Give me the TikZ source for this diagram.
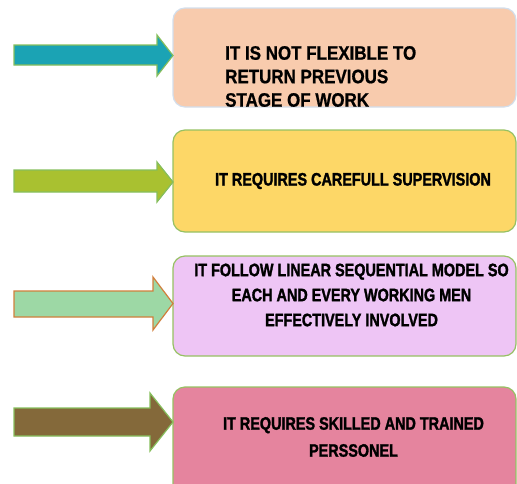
\documentclass[tikz,border=0pt]{standalone}
\usepackage{fontspec}
\setmainfont{Liberation Sans}
\newfontfamily\narrowfont[FakeStretch=0.8,FakeBold=1.6]{Liberation Sans}
\newfontfamily\widefont[FakeStretch=0.87,FakeBold=0.8]{Liberation Sans}
\definecolor{peach}{HTML}{F8CBAD}
\definecolor{gold}{HTML}{FDD767}
\definecolor{lilac}{HTML}{EEC5F5}
\definecolor{rose}{HTML}{E5849E}
\definecolor{boxgreen}{HTML}{96C163}
\definecolor{paleblue}{HTML}{D2DEEC}
\definecolor{teal}{HTML}{1BA3B4}
\definecolor{lime}{HTML}{A9C130}
\definecolor{mint}{HTML}{9DD8A5}
\definecolor{brownish}{HTML}{84693A}
\definecolor{arrgreen}{HTML}{86BE5C}
\definecolor{orangeline}{HTML}{D17F3C}
\tikzset{
  card/.style={rounded corners=12pt, line width=1.2pt},
  arrowshape/.style={line width=1.2pt, line join=miter},
  narrowtext/.style={font=\narrowfont\bfseries\fontsize{18}{25}\selectfont, align=center, inner sep=0pt},
}
\begin{document}
\begin{tikzpicture}[x=1pt,y=-1pt]
\useasboundingbox (0,0) rectangle (517,483);
\clip (0,0) rectangle (517,483);
% boxes
\draw[card, fill=peach, draw=paleblue] (173,8) rectangle (516,107);
\draw[card, fill=gold, draw=boxgreen] (173,130) rectangle (516,232);
\draw[card, fill=lilac, draw=boxgreen] (173,256) rectangle (516,356);
\draw[card, fill=rose, draw=boxgreen] (173,387) rectangle (516,500);
% arrows
\draw[arrowshape, fill=teal, draw=arrgreen] (14,45) -- (157,45) -- (157,35) -- (173,55.5) -- (157,76) -- (157,65) -- (14,65) -- cycle;
\draw[arrowshape, fill=lime, draw=arrgreen] (14,170) -- (157,170) -- (157,162) -- (173,182) -- (157,202) -- (157,192) -- (14,192) -- cycle;
\draw[arrowshape, fill=mint, draw=orangeline] (14,291) -- (153,291) -- (153,277) -- (173,303.5) -- (153,330) -- (153,317) -- (14,317) -- cycle;
\draw[arrowshape, fill=brownish, draw=arrgreen] (14,408) -- (150,408) -- (150,393) -- (173,422) -- (150,451) -- (150,436) -- (14,436) -- cycle;
% texts
\node[font=\widefont\bfseries\fontsize{19.5}{23.5}\selectfont, align=left, inner sep=0pt, anchor=west] (t1) at (225,76.5) {IT IS NOT FLEXIBLE TO\\RETURN PREVIOUS\\STAGE OF WORK};
\node[narrowtext] (t2) at (353,181) {IT REQUIRES CAREFULL SUPERVISION};
\node[narrowtext] (t3) at (351.5,295) {IT FOLLOW LINEAR SEQUENTIAL MODEL SO\\EACH AND EVERY WORKING MEN\\EFFECTIVELY INVOLVED};
\node[narrowtext, font=\narrowfont\bfseries\fontsize{18}{27}\selectfont] (t4) at (353.5,437) {IT REQUIRES SKILLED AND TRAINED\\PERSSONEL};
\end{tikzpicture}
\end{document}
